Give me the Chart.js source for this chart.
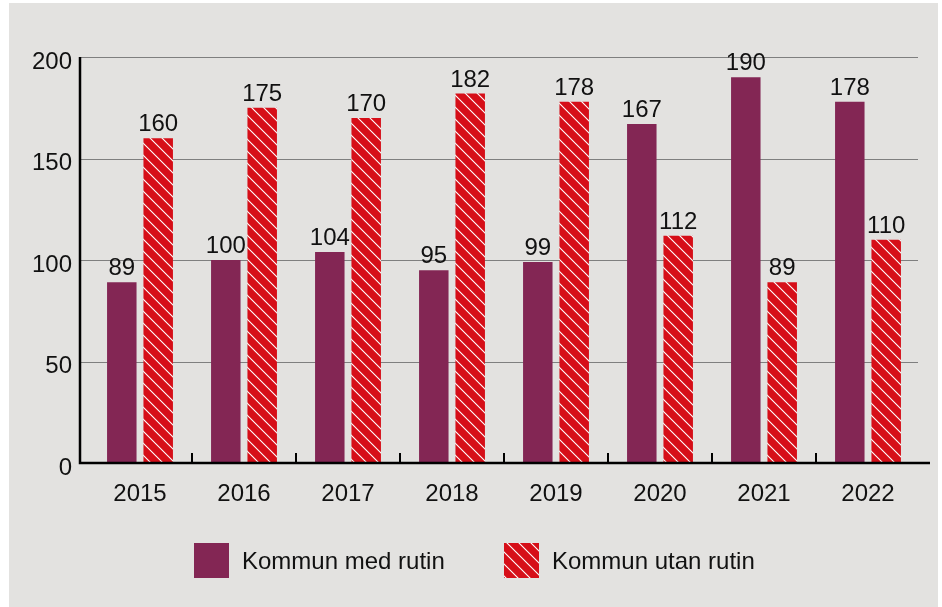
<!DOCTYPE html>
<html>
<head>
<meta charset="utf-8">
<script src="https://cdn.jsdelivr.net/npm/chart.js@4.4.1/dist/chart.umd.min.js"></script>
<style>
  html, body { margin: 0; padding: 0; background: #ffffff; }
  #wrap { width: 942px; height: 607px; position: relative; }
</style>
</head>
<body>
<div id="wrap"><canvas id="c" width="942" height="607"></canvas></div>
<script>
const years = ['2015', '2016', '2017', '2018', '2019', '2020', '2021', '2022'];
const medRutin = [89, 100, 104, 95, 99, 167, 190, 178];
const utanRutin = [160, 175, 170, 182, 178, 112, 89, 110];
const yTicks = [0, 50, 100, 150, 200];
const seriesNames = ['Kommun med rutin', 'Kommun utan rutin'];

const PURPLE = '#832654';
const RED = '#d60e18';
const BG = '#e3e2e0';
const FONT = 'Liberation Sans, Arial, Helvetica, sans-serif';

function makeHatch() {
  const s = 12;
  const p = document.createElement('canvas');
  p.width = s; p.height = s;
  const g = p.getContext('2d');
  g.fillStyle = RED;
  g.fillRect(0, 0, s, s);
  g.strokeStyle = '#ffffff';
  g.lineWidth = 1.1;
  g.beginPath();
  g.moveTo(-2, -2); g.lineTo(s + 2, s + 2);
  g.moveTo(-2, s - 2); g.lineTo(2, s + 2);
  g.moveTo(s - 2, -2); g.lineTo(s + 2, 2);
  g.stroke();
  return g.createPattern(p, 'repeat');
}
const hatch = makeHatch();

const bgPlugin = {
  id: 'bg',
  beforeDraw(chart) {
    const ctx = chart.ctx;
    ctx.save();
    ctx.fillStyle = BG;
    ctx.fillRect(9, 3, 929, 604);
    ctx.restore();
  },
  beforeDatasetsDraw(chart) {
    const ctx = chart.ctx;
    const y = chart.scales.y;
    ctx.save();
    ctx.strokeStyle = '#7f7f7f';
    ctx.lineWidth = 1.2;
    yTicks.forEach(v => {
      if (v === 0) return;
      const py = Math.round(y.getPixelForValue(v)) + 0.5;
      ctx.beginPath();
      ctx.moveTo(80, py);
      ctx.lineTo(918, py);
      ctx.stroke();
    });
    ctx.restore();
  },
  afterDatasetsDraw(chart) {
    const ctx = chart.ctx;
    const x = chart.scales.x;
    const y = chart.scales.y;
    const y0 = y.getPixelForValue(0);
    const yTop = y.getPixelForValue(200);
    ctx.save();
    ctx.strokeStyle = '#000000';
    ctx.lineWidth = 2.5;
    ctx.beginPath();
    ctx.moveTo(80, yTop);
    ctx.lineTo(80, y0 + 1.25);
    ctx.moveTo(78.75, y0);
    ctx.lineTo(930, y0);
    ctx.stroke();
    ctx.lineWidth = 2;
    for (let i = 0; i < years.length - 1; i++) {
      const bx = Math.round((x.getPixelForTick(i) + x.getPixelForTick(i + 1)) / 2);
      ctx.beginPath();
      ctx.moveTo(bx, y0 - 10);
      ctx.lineTo(bx, y0);
      ctx.stroke();
    }
    // value labels
    ctx.fillStyle = '#111111';
    ctx.font = '24px ' + FONT;
    ctx.textAlign = 'center';
    ctx.textBaseline = 'alphabetic';
    chart.data.datasets.forEach((ds, di) => {
      const meta = chart.getDatasetMeta(di);
      meta.data.forEach((bar, i) => {
        ctx.fillText(String(ds.data[i]), bar.x, bar.y - 7);
      });
    });
    // legend
    const items = [{x: 194}, {x: 504}];
    ctx.font = '24px ' + FONT;
    ctx.textAlign = 'left';
    ctx.textBaseline = 'middle';
    chart.data.datasets.forEach((ds, di) => {
      const lx = items[di].x;
      ctx.fillStyle = ds.backgroundColor;
      ctx.fillRect(lx, 543, 35, 35);
      ctx.fillStyle = '#111111';
      ctx.fillText(ds.label, lx + 48, 562);
    });
    ctx.restore();
  }
};

new Chart(document.getElementById('c'), {
  type: 'bar',
  data: {
    labels: years,
    datasets: [
      { label: seriesNames[0], data: medRutin, backgroundColor: PURPLE, borderWidth: 0,
        categoryPercentage: 0.70, barPercentage: 0.81 },
      { label: seriesNames[1], data: utanRutin, backgroundColor: hatch, borderWidth: 0,
        categoryPercentage: 0.70, barPercentage: 0.81 }
    ]
  },
  options: {
    responsive: false,
    animation: false,
    devicePixelRatio: 1,
    layout: { padding: { left: 0, right: 22, top: 57, bottom: 0 } },
    plugins: { legend: { display: false }, tooltip: { enabled: false } },
    scales: {
      x: {
        grid: { display: false, drawTicks: false },
        border: { display: false },
        ticks: { color: '#111111', font: { size: 24, family: FONT }, padding: 17, maxRotation: 0 },
        afterFit(s) { s.height = 144; }
      },
      y: {
        min: 0, max: 200,
        grid: { display: false, drawTicks: false },
        border: { display: false },
        ticks: { stepSize: 50, color: '#111111', font: { size: 24, family: FONT }, padding: 16, labelOffset: 5 },
        afterFit(s) { s.width = 88; }
      }
    }
  },
  plugins: [bgPlugin]
});
</script>
</body>
</html>
